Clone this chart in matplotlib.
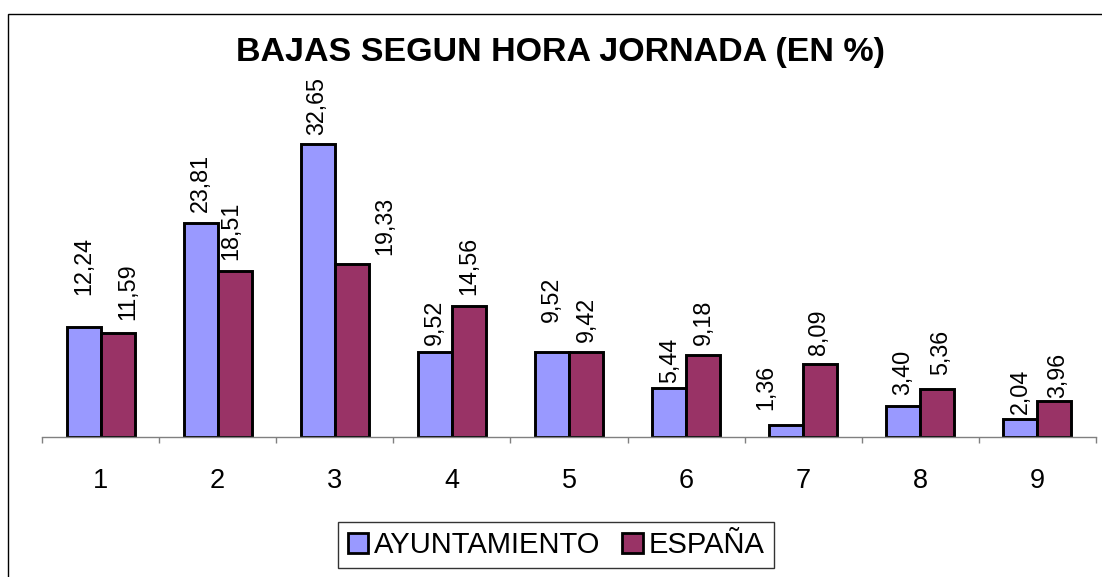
import matplotlib.pyplot as plt
from matplotlib.patches import Rectangle

plt.rcParams['font.family'] = ['Liberation Sans', 'DejaVu Sans']

# ---------- data ----------
categories = ['1', '2', '3', '4', '5', '6', '7', '8', '9']
ayuntamiento = [12.24, 23.81, 32.65, 9.52, 9.52, 5.44, 1.36, 3.40, 2.04]
espana = [11.59, 18.51, 19.33, 14.56, 9.42, 9.18, 8.09, 5.36, 3.96]
series_names = ['AYUNTAMIENTO', 'ESPAÑA']

# label nudges (dx, gap above bar), in pixels, as Excel placed them
nudge_a = [(0, 32), (0, 11), (-1, 9), (-1, 7), (-1, 30), (0, 5), (-20, 15), (-1, 11), (0, 5)]
nudge_e = [(10, 13), (-4, 11), (33, 9), (0, 11), (0, 10), (0, 10), (-2, 9), (3, 14), (3, 3)]

col_a = '#9999FF'
col_e = '#993366'

W, H = 1102, 577
fig = plt.figure(figsize=(W / 100, H / 100), dpi=100)

# outer chart frame (runs off the right and bottom of the picture)
fig.patches.append(Rectangle((8 / W, -0.05), 1.2, 1.05 - 14 / H, transform=fig.transFigure,
                             fill=False, edgecolor='black', linewidth=1))

ax = fig.add_axes([42 / W, (H - 437) / H, 1054 / W, 314 / H])
x = list(range(len(categories)))
bw = 0.29
pt = 0.72  # px -> points

bars_a = ax.bar([i - bw / 2 for i in x], ayuntamiento, width=bw, color=col_a,
                edgecolor='black', linewidth=2.1, label=series_names[0])
bars_e = ax.bar([i + bw / 2 for i in x], espana, width=bw, color=col_e,
                edgecolor='black', linewidth=2.1, label=series_names[1])

for bars, vals, nudges in [(bars_a, ayuntamiento, nudge_a), (bars_e, espana, nudge_e)]:
    for b, v, (dx, dy) in zip(bars, vals, nudges):
        ax.annotate(f'{v:.2f}'.replace('.', ','),
                    (b.get_x() + b.get_width() / 2, v),
                    xytext=(dx * pt, dy * pt), textcoords='offset points',
                    rotation=90, ha='center', va='bottom', fontsize=16.8)

ax.set_xlim(-0.5, len(categories) - 0.5)
ax.set_ylim(0, 35)
for s in ['top', 'right', 'left']:
    ax.spines[s].set_visible(False)
ax.spines['bottom'].set_color('#808080')
ax.spines['bottom'].set_linewidth(1)
ax.set_yticks([])
ax.set_xticks(x)
ax.set_xticklabels(categories, fontsize=19.5)
ax.tick_params(axis='x', which='major', length=0, pad=22)
ax.set_xticks([i - 0.5 for i in range(len(categories) + 1)], minor=True)
ax.tick_params(axis='x', which='minor', length=6 * pt, color='#808080', width=1)

fig.text(561 / W, 1 - 53 / H, 'BAJAS SEGUN HORA JORNADA (EN %)', ha='center', va='center',
         fontsize=24.5, fontweight='bold')

leg = fig.legend(loc='center', bbox_to_anchor=(556 / W, 1 - 545 / H), ncol=2,
                 fontsize=21, frameon=True, fancybox=False, handlelength=0.7,
                 handleheight=0.7, handletextpad=0.2, columnspacing=0.75,
                 borderpad=0.32, borderaxespad=0)
leg.get_frame().set_edgecolor('black')
leg.get_frame().set_linewidth(1)
for h in leg.legend_handles:
    h.set_linewidth(2)

fig.savefig('out.png', dpi=100)
